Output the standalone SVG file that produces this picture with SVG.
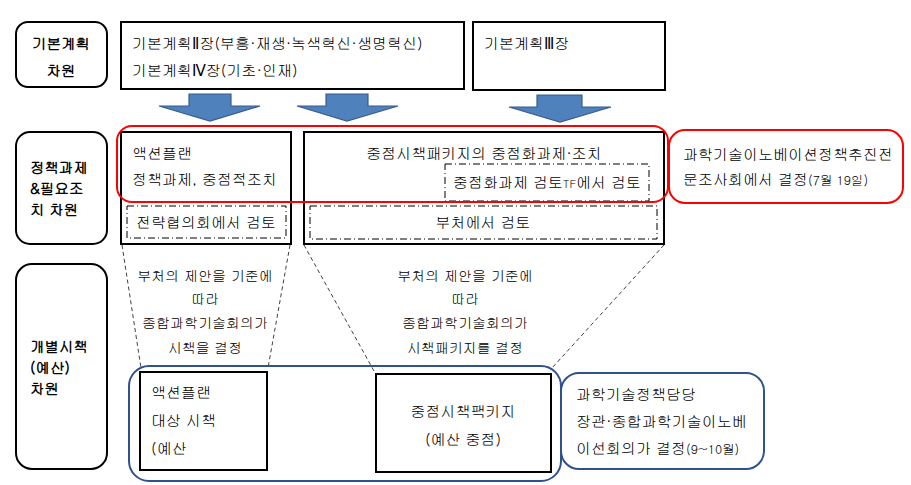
<svg xmlns="http://www.w3.org/2000/svg" width="911" height="485" viewBox="0 0 911 485">
<style>
text{font-family:"Gulim","Noto Sans CJK KR","Liberation Sans",sans-serif;font-size:15px;fill:#000}
.lbl{font-weight:bold;font-size:14.5px}
.rn{font-family:"DejaVu Sans","Noto Sans CJK KR",sans-serif}
.box{fill:#fff;stroke:#000;stroke-width:2}
.lab{fill:#fff;stroke:#000;stroke-width:2}
.dd{fill:none;stroke:#000;stroke-width:1;stroke-dasharray:7 3 1 3}
.red{fill:none;stroke:#FF0000;stroke-width:2}
.blue{fill:none;stroke:#2F528F;stroke-width:2}
.arr{fill:#4F81BD;stroke:#385D8A;stroke-width:1.2}
.con{fill:none;stroke:#404040;stroke-width:1;stroke-dasharray:4 3}
.mid{font-size:14px;text-anchor:middle}
</style>
<rect width="911" height="485" fill="#fff"/>

<g id="label-basic">
<rect class="lab" x="16" y="22" width="91" height="65" rx="12"/>
<text class="lbl" x="61" y="49" text-anchor="middle" font-size="15.5">기본계획</text>
<text class="lbl" x="61" y="76" text-anchor="middle" font-size="15.5">차원</text>
</g>
<g id="label-policy">
<rect class="lab" x="16" y="132" width="91" height="112" rx="14"/>
<text class="lbl" x="30" y="173">정책과제</text>
<text class="lbl" x="30" y="194">&amp;필요조</text>
<text class="lbl" x="30" y="215">치 차원</text>
</g>
<g id="label-individual">
<rect class="lab" x="16" y="264" width="91" height="205" rx="16"/>
<text class="lbl" x="30" y="352">개별시책</text>
<text class="lbl" x="30" y="373">(예산)</text>
<text class="lbl" x="30" y="394">차원</text>
</g>

<g id="plan-2-4">
<rect class="box" x="121" y="22" width="343" height="67"/>
<text x="132" y="49">기본계획<tspan class="rn">Ⅱ</tspan>장(부흥·재생·녹색혁신·생명혁신)</text>
<text x="132" y="76">기본계획<tspan class="rn">Ⅳ</tspan>장(기초·인재)</text>
</g>
<g id="plan-3">
<rect class="box" x="473" y="22" width="192" height="68"/>
<text x="484" y="49">기본계획<tspan class="rn">Ⅲ</tspan>장</text>
</g>

<g id="arrows">
<path class="arr" d="M189,94 H231 V106 H260 L210,121 L159,106 H189 Z"/>
<path class="arr" d="M326,94 H368 V106 H398 L347,121 L297,106 H326 Z"/>
<path class="arr" d="M537,95 H582 V107 H611 L560,122 L509,107 H537 Z"/>
</g>

<g id="action-plan">
<rect class="box" x="121" y="132" width="170" height="112"/>
<text x="132" y="159">액션플랜</text>
<text x="132" y="185" font-size="13.5">정책과제, 중점적조치</text>
<rect class="dd" x="127" y="206" width="159" height="32"/>
<text x="206" y="228" text-anchor="middle">전략협의회에서 검토</text>
</g>

<g id="priority-package">
<rect class="box" x="304" y="132" width="360" height="112"/>
<text x="484" y="159" text-anchor="middle">중점시책패키지의 중점화과제·조치</text>
<rect class="dd" x="445" y="164" width="204" height="37"/>
<text x="453" y="188" font-size="14">중점화과제 검토<tspan font-size="11">TF</tspan>에서 검토</text>
<rect class="dd" x="310" y="206" width="347" height="33"/>
<text x="483" y="228" text-anchor="middle">부처에서 검토</text>
</g>

<g id="red-group">
<rect class="red" x="117" y="126" width="551" height="76" rx="15"/>
</g>
<g id="csti-decision">
<rect class="red" x="669" y="130" width="234" height="73" rx="16"/>
<text x="683" y="160" font-size="14.5">과학기술이노베이션정책추진전</text>
<text x="683" y="185" font-size="14.5">문조사회에서 결정<tspan font-size="12.5">(7월 19일)</tspan></text>
</g>

<g id="connectors">
<line class="con" x1="122" y1="245" x2="141" y2="368"/>
<line class="con" x1="290" y1="245" x2="268" y2="368"/>
<line class="con" x1="304" y1="245" x2="374" y2="371"/>
<line class="con" x1="664" y1="245" x2="552" y2="368"/>
</g>

<g id="note-left">
<text class="mid" x="205" y="281">부처의 제안을 기준에</text>
<text class="mid" x="205" y="304">따라</text>
<text class="mid" x="205" y="328">종합과학기술회의가</text>
<text class="mid" x="205" y="353">시책을 결정</text>
</g>
<g id="note-right">
<text class="mid" x="465" y="281">부처의 제안을 기준에</text>
<text class="mid" x="465" y="304">따라</text>
<text class="mid" x="465" y="328">종합과학기술회의가</text>
<text class="mid" x="465" y="353">시책패키지를 결정</text>
</g>

<g id="budget-group">
<rect class="blue" x="129" y="366" width="432" height="115" rx="20"/>
</g>
<g id="action-plan-measures">
<rect class="box" x="140" y="372" width="127" height="98" stroke-width="2.5"/>
<text x="151" y="398">액션플랜</text>
<text x="151" y="426">대상  시책</text>
<text x="151" y="454">(예산</text>
</g>
<g id="priority-package-budget">
<rect class="box" x="376" y="374" width="175" height="98" stroke-width="2.5"/>
<text x="463" y="417" text-anchor="middle">중점시책팩키지</text>
<text x="463" y="445" text-anchor="middle">(예산 중점)</text>
</g>
<g id="minister-decision">
<rect class="blue" x="561" y="373" width="203" height="96" rx="18"/>
<text x="576" y="400" font-size="14.5">과학기술정책담당</text>
<text x="576" y="427" font-size="14.5">장관·종합과학기술이노베</text>
<text x="576" y="454" font-size="14.5">이선회의가 결정<tspan font-size="12.5">(9~10월)</tspan></text>
</g>
</svg>
